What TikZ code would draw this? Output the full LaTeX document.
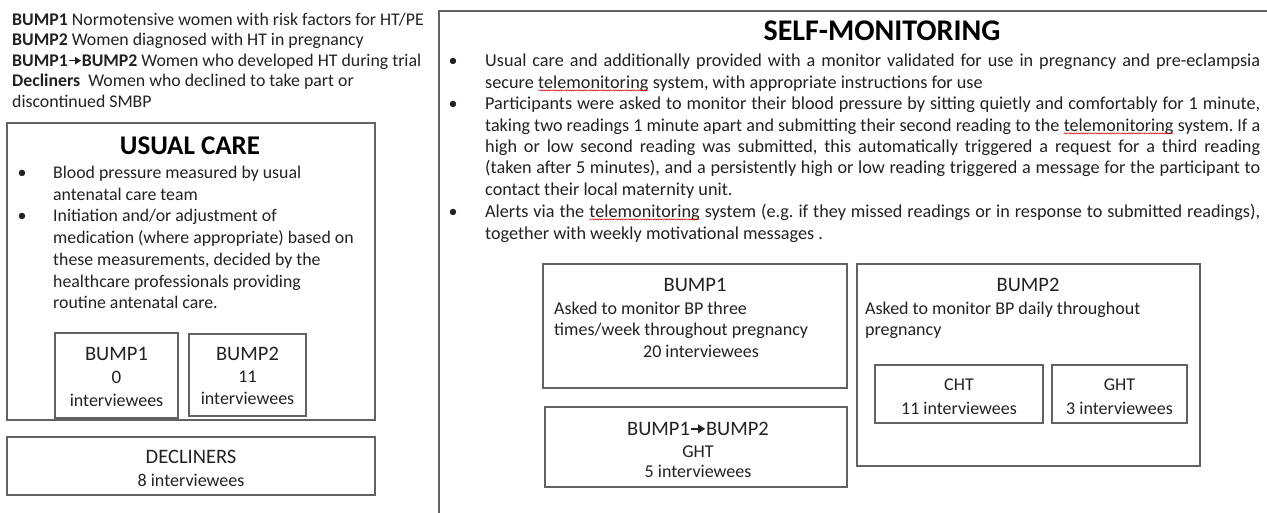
\documentclass[tikz,border=0pt]{standalone}
\usepackage{fontspec}
\usepackage{graphicx}
\setmainfont{Carlito}
\frenchspacing
\usetikzlibrary{arrows.meta,decorations.pathmorphing}
\definecolor{boxline}{HTML}{626262}
\definecolor{txt}{HTML}{222222}
\newcommand\spellerr[1]{\tikz[baseline=(w.base)]{\node[inner sep=0pt,outer sep=0pt] (w) {#1};\draw[red!85!black,line width=0.5pt,decorate,decoration={snake,amplitude=0.6pt,segment length=2.4pt}] ([yshift=-2.4pt]w.base west) -- ([yshift=-2.4pt]w.base east);}}
\newcommand\farrow{\tikz[x=1em,y=1em,baseline=0pt]\draw[line width=0.085em,-{Triangle[length=0.34em,width=0.42em]}] (0,0.3)--(0.7,0.3);}
\newsavebox\jlbox
\newcommand\jl[1]{\sbox\jlbox{#1}\ifdim\wd\jlbox>775pt \resizebox{775pt}{\height}{\usebox\jlbox}\else\makebox[775pt][s]{#1}\fi}
\begin{document}
\begin{tikzpicture}[x=1pt,y=-1pt,
  box/.style={draw=boxline,line width=1.3pt},
  ln/.style={inner sep=0pt,anchor=base west,text=txt,font=\fontsize{17.8}{22}\selectfont},
  rl/.style={inner sep=0pt,anchor=base west,text=txt,font=\fontsize{18.2}{22}\selectfont},
  ct/.style={inner sep=0pt,anchor=base,text=txt,font=\fontsize{18}{22}\selectfont},
  hd/.style={inner sep=0pt,anchor=base,text=txt,font=\fontsize{20.5}{24}\selectfont},
  sbl/.style={inner sep=0pt,anchor=base west,text=txt,font=\fontsize{18}{22}\selectfont},
  bul/.style={inner sep=0pt,anchor=base,text=txt,font=\fontsize{18}{22}\selectfont}]
\useasboundingbox (0,0) rectangle (1267,512);
\fill[white] (0,0) rectangle (1267,512);

% legend
\node[ln] (l1) at (12,25) {\textbf{BUMP1} Normotensive women with risk factors for HT/PE};
\node[ln] (l2) at (12,45) {\textbf{BUMP2} Women diagnosed with HT in pregnancy};
\node[ln] (l3) at (12,66) {\textbf{BUMP1\farrow BUMP2} Women who developed HT during trial};
\node[ln] (l4) at (12,86) {\textbf{Decliners}\ \ Women who declined to take part or};
\node[ln] (l5) at (12,107) {discontinued SMBP};

% usual care
\draw[box] (7,123) rectangle (375,420);
\node[inner sep=0pt,anchor=base,text=black,font=\bfseries\fontsize{27}{30}\selectfont] (uct) at (190,154) {USUAL CARE};
\node[bul] (ub1) at (22,178) {•};
\node[ln] (u1) at (53,178) {Blood pressure measured by usual};
\node[ln] (u2) at (53,200) {antenatal care team};
\node[bul] (ub2) at (22,221) {•};
\node[ln] (u3) at (53,221) {Initiation and/or adjustment of};
\node[ln] (u4) at (53,243) {medication (where appropriate) based on};
\node[ln] (u5) at (53,265) {these measurements, decided by the};
\node[ln] (u6) at (53,287) {healthcare professionals providing};
\node[ln] (u7) at (53,308) {routine antenatal care.};

\draw[box] (55,333) rectangle (178,418);
\node[hd] (ucb1a) at (116.5,360) {BUMP1};
\node[ct,font=\fontsize{19}{22}\selectfont] (ucb1b) at (116.5,383) {0};
\node[ct] (ucb1c) at (116.5,406) {interviewees};
\draw[box] (189,334) rectangle (306,416);
\node[hd] (ucb2a) at (247.5,360) {BUMP2};
\node[ct] (ucb2b) at (247.5,382) {11};
\node[ct] (ucb2c) at (247.5,404) {interviewees};

% decliners
\draw[box] (7,437) rectangle (375,495);
\node[hd] (dec1) at (191,463) {DECLINERS};
\node[ct] (dec2) at (191,486) {8 interviewees};

% self-monitoring frame (continues beyond the picture)
\draw[box] (439,515) -- (439,11) -- (1270,11);
\node[inner sep=0pt,anchor=base,text=black,font=\bfseries\fontsize{30}{34}\selectfont] (smt) at (882,40) {SELF-MONITORING};
\node[bul] (sb1) at (453,66) {•};
\node[rl] (s1) at (485,66) {\jl{Usual care and additionally provided with a monitor validated for use in pregnancy and pre-eclampsia}};
\node[rl] (s2) at (485,88) {secure \spellerr{telemonitoring} system, with appropriate instructions for use};
\node[bul] (sb2) at (453,109) {•};
\node[rl] (s3) at (485,109) {\jl{Participants were asked to monitor their blood pressure by sitting quietly and comfortably for 1 minute,}};
\node[rl] (s4) at (485,131) {\jl{taking two readings 1 minute apart and submitting their second reading to the \spellerr{telemonitoring} system. If a}};
\node[rl] (s5) at (485,152) {\jl{high or low second reading was submitted, this automatically triggered a request for a third reading}};
\node[rl] (s6) at (485,173) {\jl{(taken after 5 minutes), and a persistently high or low reading triggered a message for the participant to}};
\node[rl] (s7) at (485,195) {contact their local maternity unit.};
\node[bul] (sb3) at (453,217) {•};
\node[rl] (s8) at (485,217) {\jl{Alerts via the \spellerr{telemonitoring} system (e.g. if they missed readings or in response to submitted readings),}};
\node[rl] (s9) at (485,239) {together with weekly motivational messages .};

% BUMP1 sub box
\draw[box] (543,264) rectangle (847,388);
\node[hd] (m1a) at (695,291) {BUMP1};
\node[sbl] (m1b) at (554,314) {Asked to monitor BP three};
\node[sbl] (m1c) at (554,335) {times/week throughout pregnancy};
\node[ct] (m1d) at (701,357) {20 interviewees};

% BUMP1->BUMP2 sub box
\draw[box] (545,407) rectangle (847,487);
\node[hd] (m3a) at (698,435) {BUMP1\farrow BUMP2};
\node[ct] (m3b) at (698,457) {GHT};
\node[ct] (m3c) at (698,477) {5 interviewees};

% BUMP2 sub box
\draw[box] (857,264) rectangle (1200,466);
\node[hd] (m2a) at (1028,291) {BUMP2};
\node[sbl] (m2b) at (865,314) {Asked to monitor BP daily throughout};
\node[sbl] (m2c) at (865,335) {pregnancy};
\draw[box] (875,365) rectangle (1043,423);
\node[ct] (c1) at (959,390) {CHT};
\node[ct] (c2) at (959,414) {11 interviewees};
\draw[box] (1052,365) rectangle (1187,423);
\node[ct] (g1) at (1119.5,390) {GHT};
\node[ct] (g2) at (1119.5,414) {3 interviewees};
\end{tikzpicture}
\end{document}
